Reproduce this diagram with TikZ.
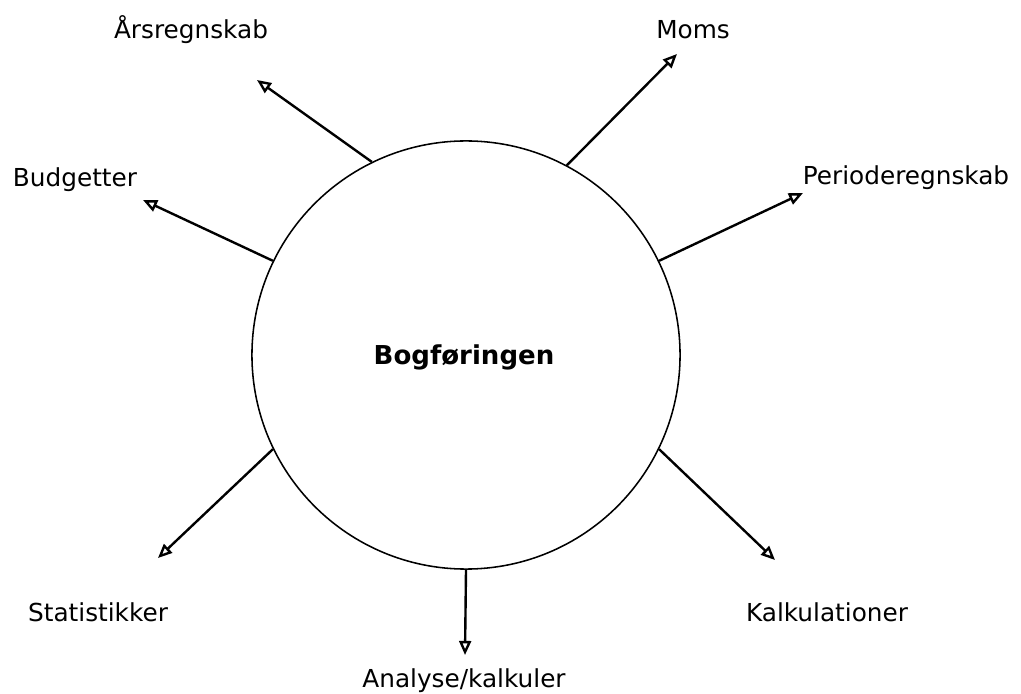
\documentclass[tikz,border=0pt]{standalone}
\usepackage{fontspec}
\setmainfont{DejaVu Sans}
\usetikzlibrary{arrows.meta}

\begin{document}
\begin{tikzpicture}[x=0.025cm,y=-0.025cm,
    >={Triangle[open,length=10pt,width=8.5pt]},
    every node/.style={font=\fontsize{17.6}{20}\selectfont},
    pil/.style={->,line width=1.7pt}]
    \useasboundingbox (0,0) rectangle (1021,694);

    \node[circle,draw,line width=1.1pt,minimum size=10.7cm,inner sep=0pt] (bog) at (466,355) {};
    \node[font=\fontsize{18.5}{21}\selectfont\bfseries] (titel) at (464,357) {Bogføringen};

    \node (aars) at (191,30) {Årsregnskab};
    \node (moms) at (693,30) {Moms};
    \node (budget) at (75,180) {Budgetter};
    \node (periode) at (906,178) {Perioderegnskab};
    \node (stat) at (98,612) {Statistikker};
    \node (kalk) at (827,612) {Kalkulationer};
    \node (analyse) at (464,681) {Analyse/kalkuler};

    \coordinate (aarsP) at (257,80);
    \coordinate (momsP) at (677,54);
    \coordinate (budgetP) at (143,200);
    \coordinate (periodeP) at (803,193);
    \coordinate (statP) at (158,558);
    \coordinate (kalkP) at (775,560);
    \coordinate (analyseP) at (465,655);

    \draw[pil] (bog.116.7) -- (aarsP);
    \draw[pil] (bog.62) -- (momsP);
    \draw[pil] (bog.154) -- (budgetP);
    \draw[pil] (bog.26) -- (periodeP);
    \draw[pil] (bog.206) -- (statP);
    \draw[pil] (bog.334) -- (kalkP);
    \draw[pil] (bog.270) -- (analyseP);
\end{tikzpicture}
\end{document}
